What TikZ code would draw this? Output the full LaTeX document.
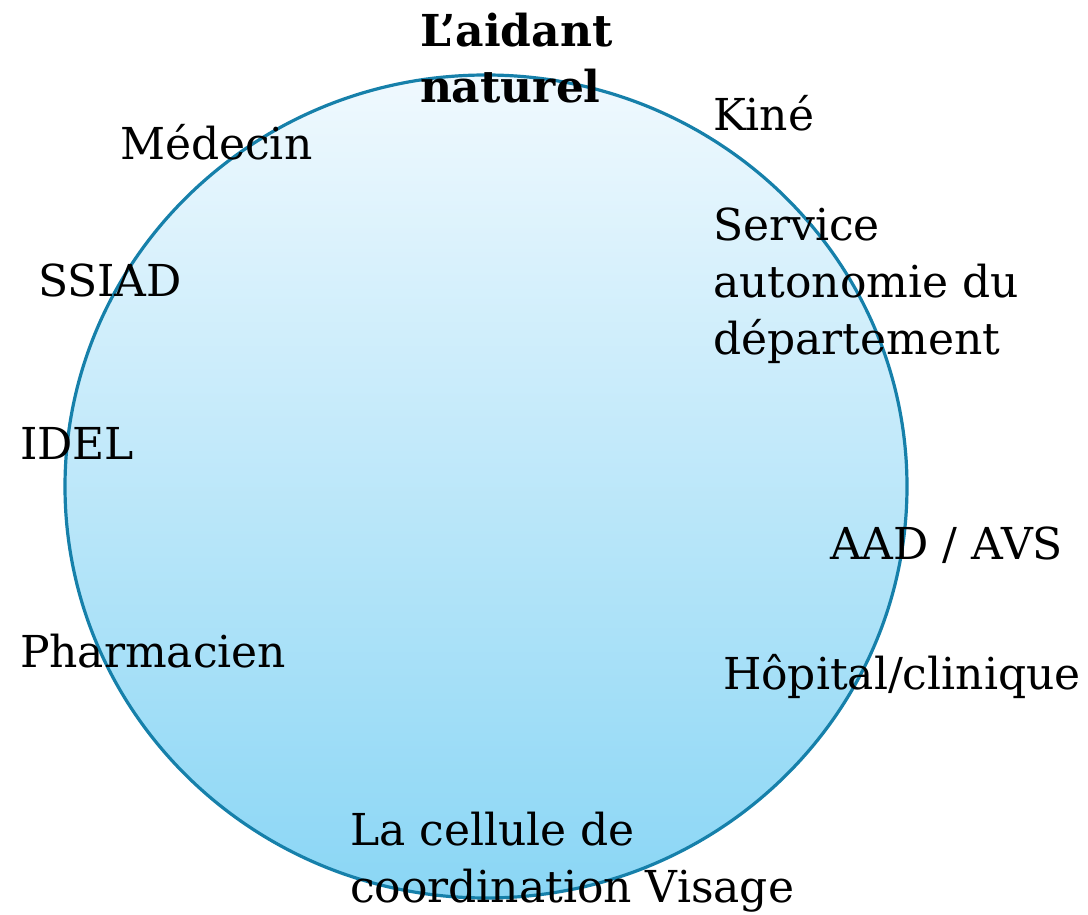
\documentclass[tikz,border=0pt]{standalone}
\usepackage{fontspec}
\setmainfont{DejaVu Serif}
\usepackage{tikz}
\usetikzlibrary{positioning}
\usepackage{xcolor}
\definecolor{ringblue}{RGB}{22,128,170}
\definecolor{topfill}{RGB}{240,249,254}
\definecolor{botfill}{RGB}{138,214,245}

\begin{document}
\begin{tikzpicture}[x=1pt, y=1pt,
    every node/.style={inner sep=0pt, outer sep=0pt, anchor=base west,
      font=\fontsize{44}{57}\selectfont},
    actor/.style={align=left}]
        \useasboundingbox (0,0) rectangle (1088,914);

        % The circle of care
        \shade[top color=topfill, bottom color=botfill] (486,427.5) ellipse [x radius=421, y radius=411.5];
        \draw[ringblue, line width=3.2pt] (486,427.5) ellipse [x radius=421, y radius=411.5];

        % Actors round the circle (base = last line)
        \node[actor, font=\fontsize{44}{56}\selectfont\bfseries] (aidant) at (420,811) {L'aidant\\naturel};
        \node (kine) at (713,783) {Kiné};
        \node (medecin) at (120,754) {Médecin};
        \node[actor] (service) at (713,559) {Service\\autonomie du\\département};
        \node (ssiad) at (38,617) {SSIAD};
        \node (idel) at (20,454) {IDEL};
        \node (aad) at (830,354) {AAD / AVS};
        \node (pharma) at (20,246) {Pharmacien};
        \node (hopital) at (723,224) {Hôpital/clinique};
        \node[actor] (cellule) at (350,12) {La cellule de\\coordination Visage};
      \end{tikzpicture}
\end{document}
